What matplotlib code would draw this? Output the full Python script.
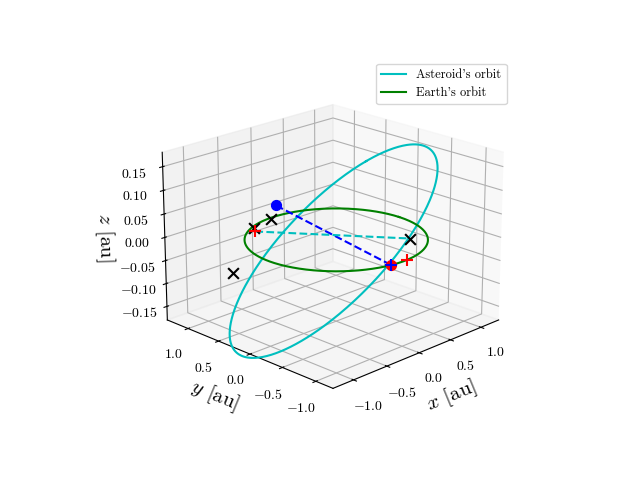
import numpy as np
import matplotlib
matplotlib.use("Agg")
import matplotlib.pyplot as plt

plt.rcParams.update({
    "font.family": "serif",
    "font.serif": ["cmr10"],
    "mathtext.fontset": "cm",
    "axes.formatter.use_mathtext": True,
})

# asteroid orbital elements: a [au], e, i [deg], Omega [deg], omega [deg]
ast_elements = [1.15, 0.12, 9.5, 245.0, 140.0]
earth_radius = 1.0

# marked points (x, y, z)
blue_dot = [-0.35, 0.58, 0.06]
red_dot = [-0.17, -0.99, 0.0]
blue_plus = [-0.17, -0.99, 0.0]
red_plus = [[-0.47, 0.79, 0.0], [0.05, -1.01, 0.0]]
black_x = [[-0.40, 0.89, 0.0], [-0.06, 0.98, 0.0], [0.57, -0.57, 0.0], [-0.76, 0.85, -0.08]]
cyan_seg = [[-0.47, 0.79, 0.0], [0.57, -0.57, 0.0]]


def orbit(a, e, inc, Om, om):
    nu = np.linspace(0, 2 * np.pi, 400)
    r = a * (1 - e ** 2) / (1 + e * np.cos(nu))
    xp, yp = r * np.cos(nu), r * np.sin(nu)
    i, O, w = np.radians([inc, Om, om])
    cO, sO, cw, sw, ci, si = np.cos(O), np.sin(O), np.cos(w), np.sin(w), np.cos(i), np.sin(i)
    x = (cO * cw - sO * sw * ci) * xp + (-cO * sw - sO * cw * ci) * yp
    y = (sO * cw + cO * sw * ci) * xp + (-sO * sw + cO * cw * ci) * yp
    z = (sw * si) * xp + (cw * si) * yp
    return x, y, z


fig = plt.figure(figsize=(6.4, 4.8))
ax = fig.add_subplot(projection="3d")
ax.view_init(elev=20, azim=-135)

ax.plot(*orbit(*ast_elements), c="c", label="Asteroid's orbit")
t = np.linspace(0, 2 * np.pi, 400)
ax.plot(earth_radius * np.cos(t), earth_radius * np.sin(t), 0 * t, c="g", label="Earth's orbit")

ax.plot(*zip(blue_dot, red_dot), "b--")
ax.plot(*zip(*cyan_seg), "c--")
ax.scatter(*zip(*black_x), c="k", marker="x", s=60, depthshade=False)
ax.scatter(*zip(*red_plus), c="r", marker="+", s=70, depthshade=False)
ax.scatter(*red_dot, c="r", s=50, depthshade=False)
ax.scatter(*blue_plus, c="b", marker="+", s=70, depthshade=False)
ax.scatter(*blue_dot, c="b", s=50, depthshade=False)

ax.set_xlim(-1.3, 1.3)
ax.set_ylim(-1.25, 1.35)
ax.set_zlim(-0.18, 0.18)
ax.set_xticks([-1.0, -0.5, 0.0, 0.5, 1.0])
ax.set_yticks([-1.0, -0.5, 0.0, 0.5, 1.0])
ax.set_zticks([-0.15, -0.10, -0.05, 0.0, 0.05, 0.10, 0.15])
ax.set_xlabel("$x$ [au]", fontsize=15)
ax.set_ylabel("$y$ [au]", fontsize=15)
ax.set_zlabel("$z$ [au]", fontsize=15)
ax.legend(loc="upper right", fontsize=9)

fig.savefig("out.png", dpi=100)
